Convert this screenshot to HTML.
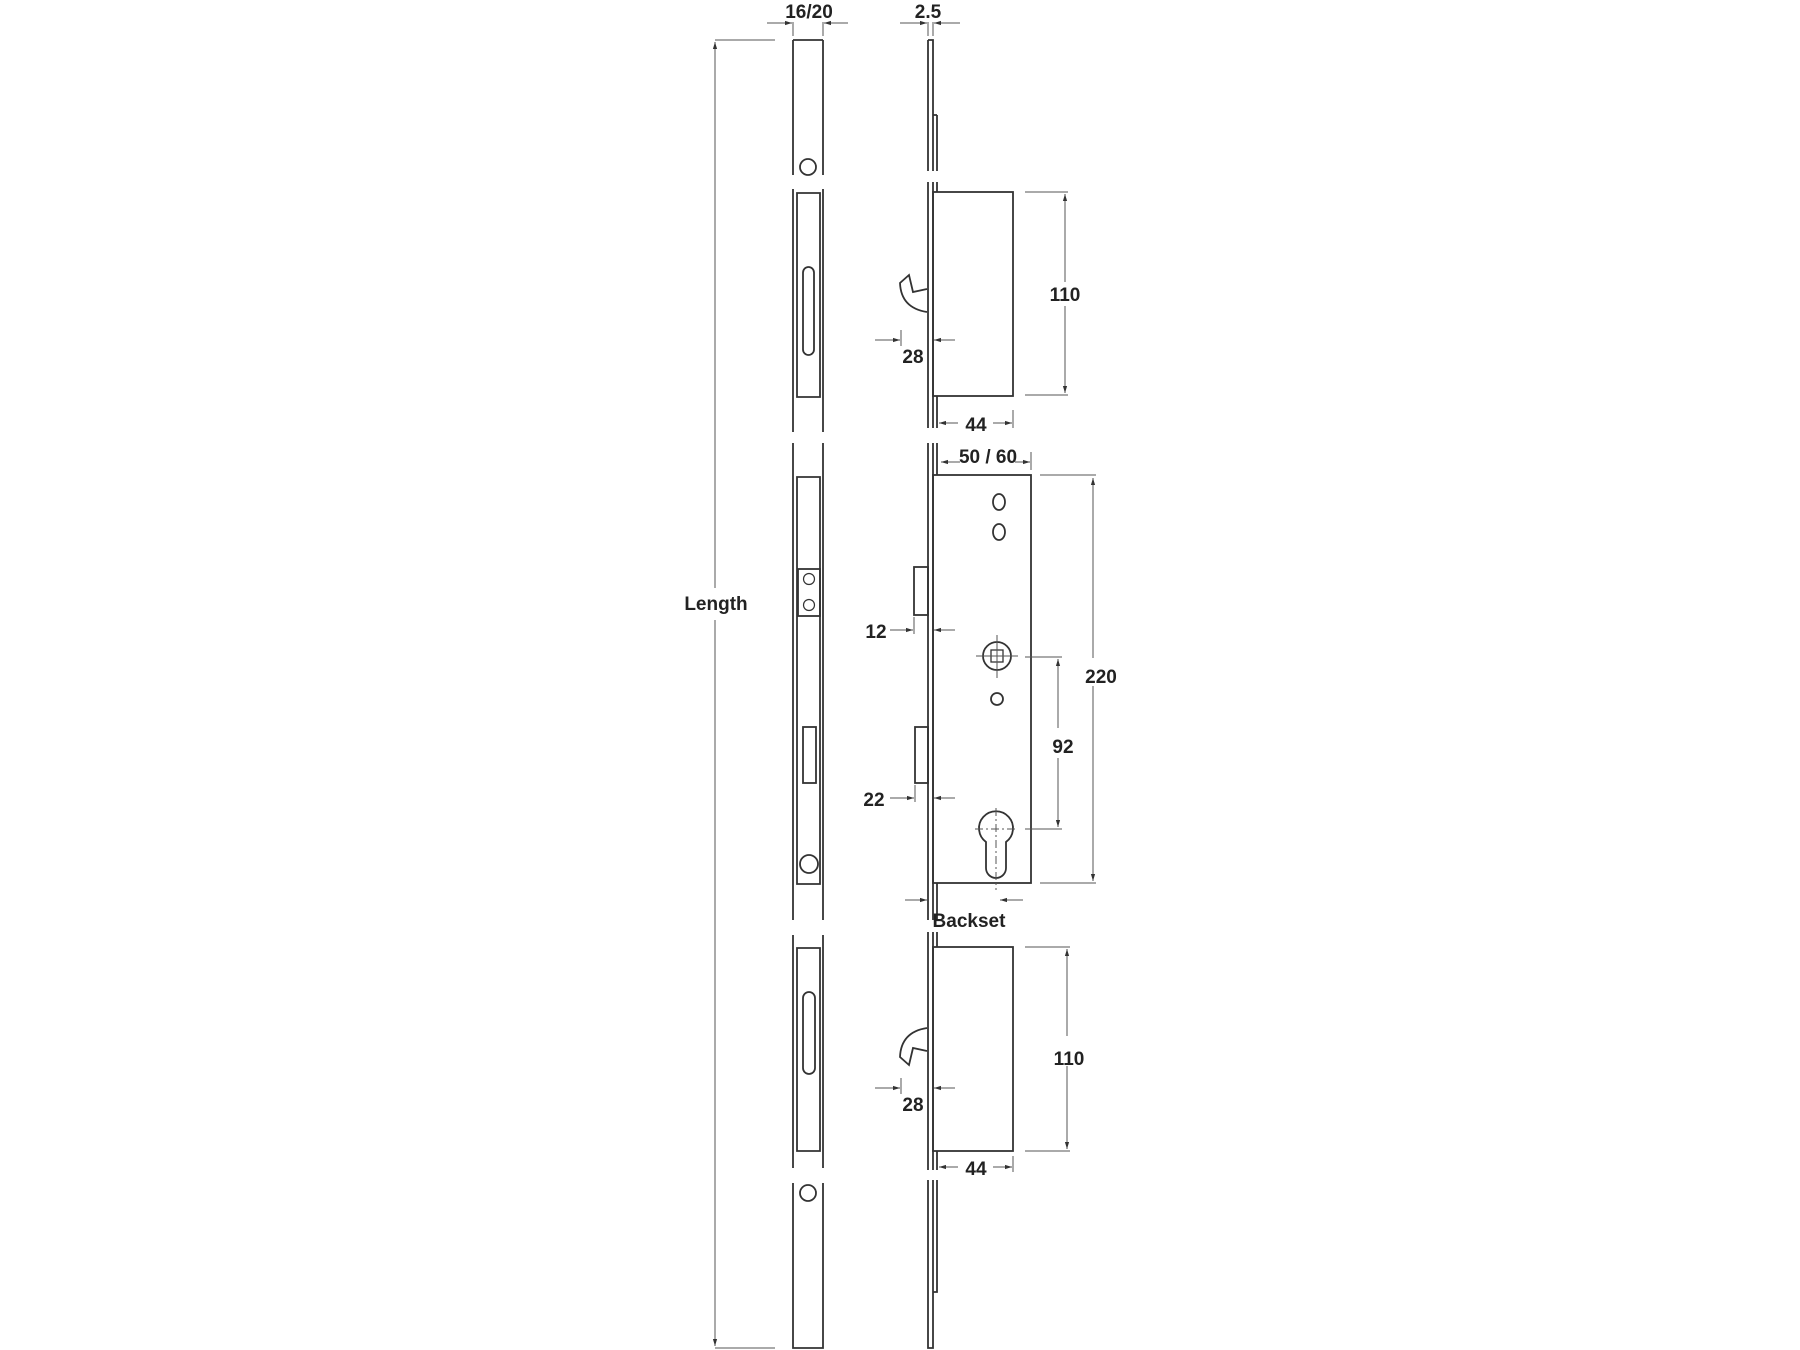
<!DOCTYPE html>
<html><head><meta charset="utf-8"><style>
html,body{margin:0;padding:0;background:#fff;width:1800px;height:1350px;overflow:hidden}
text{font-family:"Liberation Sans",sans-serif;font-weight:bold;fill:#222}
</style></head><body>
<svg width="1800" height="1350" viewBox="0 0 1800 1350" xmlns="http://www.w3.org/2000/svg">
<defs>
<marker id="a" viewBox="0 0 10 10" refX="10" refY="5" markerWidth="7" markerHeight="7" orient="auto-start-reverse"><path d="M0,2 L10,5 L0,8 z" fill="#333"/></marker>
</defs>
<g fill="none" stroke="#333" stroke-width="1.8">
<path d="M793,40 H823 M793,40 V175 M823,40 V175"/>
<circle cx="808" cy="167" r="8"/>
<path d="M793,189 V432 M823,189 V432 M797,193 H820 V397 H797 Z"/>
<rect x="803" y="267" width="11" height="88" rx="5.5"/>
<path d="M793,443 V920 M823,443 V920 M797,477 H820 V884 H797 Z"/>
<rect x="798" y="569" width="22" height="47"/>
<circle cx="809" cy="579" r="5.5" stroke-width="1.2"/><circle cx="809" cy="605" r="5.5" stroke-width="1.2"/>
<rect x="803" y="727" width="13" height="56"/>
<circle cx="809" cy="864" r="9"/>
<path d="M793,935 V1168 M823,935 V1168 M797,948 H820 V1151 H797 Z"/>
<rect x="803" y="992" width="12" height="82" rx="6"/>
<path d="M793,1183 V1348 H823 V1183"/>
<circle cx="808" cy="1193" r="8"/>
<path d="M928,40 H933 V171 M928,40 V171 M937,115 V171 M933,115 H937"/>
<path d="M928,182 V428 M933,182 V428 M937,182 V192 M937,396 V428"/>
<rect x="933" y="192" width="80" height="204"/>
<path d="M928,443 V920 M933,443 V920 M937,443 V475 M937,883 V920"/>
<rect x="933" y="475" width="98" height="408"/>
<path d="M928,932 V1170 M933,932 V1170 M937,932 V947 M937,1151 V1170"/>
<rect x="933" y="947" width="80" height="204"/>
<path d="M928,1180 V1348 H933 V1180 M937,1180 V1292 H933"/>
<path d="M927,289 L913,292 L909,275 L900,283 Q901,308 927,312"/>
<path d="M927,1051 L913,1048 L909,1065 L900,1057 Q901,1032 927,1028"/>
<rect x="914" y="567" width="14" height="48"/>
<rect x="915" y="727" width="13" height="56"/>
<ellipse cx="999" cy="502" rx="6" ry="8"/><ellipse cx="999" cy="532" rx="6" ry="8"/>
<circle cx="997" cy="656" r="14"/><rect x="991" y="650" width="12" height="12" stroke-width="1.3"/>
<circle cx="997" cy="699" r="6"/>
<path d="M986,842 A17,17 0 1 1 1006,842 V868 A10,10 0 0 1 986,868 Z"/>
</g>
<g fill="none" stroke="#555" stroke-width="1">
<path d="M997,635 V678 M976,656 H1018" />
<path d="M996,808 V890 M975,829 H1017" stroke-dasharray="8,3,2,3"/>
<path d="M715,40 H775 M715,1348 H775"/>
<line x1="715" y1="588" x2="715" y2="42" marker-end="url(#a)"/>
<line x1="715" y1="620" x2="715" y2="1346" marker-end="url(#a)"/>
<path d="M793,22 V36 M823,22 V36 M928,22 V36 M933,22 V36"/>
<line x1="767" y1="23" x2="792" y2="23" marker-end="url(#a)"/>
<line x1="848" y1="23" x2="824" y2="23" marker-end="url(#a)"/>
<line x1="900" y1="23" x2="927" y2="23" marker-end="url(#a)"/>
<line x1="960" y1="23" x2="934" y2="23" marker-end="url(#a)"/>
<path d="M1025,192 H1068 M1025,395 H1068"/>
<line x1="1065" y1="282" x2="1065" y2="194" marker-end="url(#a)"/>
<line x1="1065" y1="306" x2="1065" y2="393" marker-end="url(#a)"/>
<path d="M901,330 V346"/>
<line x1="875" y1="340" x2="900" y2="340" marker-end="url(#a)"/>
<line x1="955" y1="340" x2="934" y2="340" marker-end="url(#a)"/>
<path d="M1013,410 V428"/>
<line x1="958" y1="423" x2="939" y2="423" marker-end="url(#a)"/>
<line x1="993" y1="423" x2="1012" y2="423" marker-end="url(#a)"/>
<path d="M1031,452 V470"/>
<line x1="960" y1="462" x2="941" y2="462" marker-end="url(#a)"/>
<line x1="1015" y1="462" x2="1030" y2="462" marker-end="url(#a)"/>
<path d="M1040,475 H1096 M1040,883 H1096"/>
<line x1="1093" y1="658" x2="1093" y2="478" marker-end="url(#a)"/>
<line x1="1093" y1="686" x2="1093" y2="881" marker-end="url(#a)"/>
<path d="M1025,657 H1062 M1025,829 H1062"/>
<line x1="1058" y1="728" x2="1058" y2="659" marker-end="url(#a)"/>
<line x1="1058" y1="758" x2="1058" y2="827" marker-end="url(#a)"/>
<path d="M914,617 V634"/>
<line x1="890" y1="630" x2="913" y2="630" marker-end="url(#a)"/>
<line x1="955" y1="630" x2="934" y2="630" marker-end="url(#a)"/>
<path d="M915,785 V802"/>
<line x1="890" y1="798" x2="914" y2="798" marker-end="url(#a)"/>
<line x1="955" y1="798" x2="934" y2="798" marker-end="url(#a)"/>
<line x1="905" y1="900" x2="927" y2="900" marker-end="url(#a)"/>
<line x1="1023" y1="900" x2="1000" y2="900" marker-end="url(#a)"/>
<path d="M1025,947 H1070 M1025,1151 H1070"/>
<line x1="1067" y1="1036" x2="1067" y2="949" marker-end="url(#a)"/>
<line x1="1067" y1="1066" x2="1067" y2="1149" marker-end="url(#a)"/>
<path d="M901,1078 V1094"/>
<line x1="875" y1="1088" x2="900" y2="1088" marker-end="url(#a)"/>
<line x1="955" y1="1088" x2="934" y2="1088" marker-end="url(#a)"/>
<path d="M1013,1156 V1172"/>
<line x1="958" y1="1167" x2="939" y2="1167" marker-end="url(#a)"/>
<line x1="993" y1="1167" x2="1012" y2="1167" marker-end="url(#a)"/>
</g>
<g font-size="19" text-anchor="middle">
<text x="809" y="18">16/20</text>
<text x="928" y="18">2.5</text>
<text x="716" y="610">Length</text>
<text x="1065" y="301">110</text>
<text x="913" y="363">28</text>
<text x="976" y="431">44</text>
<text x="988" y="463">50 / 60</text>
<text x="1101" y="683">220</text>
<text x="1063" y="753">92</text>
<text x="876" y="638">12</text>
<text x="874" y="806">22</text>
<text x="969" y="927">Backset</text>
<text x="1069" y="1065">110</text>
<text x="913" y="1111">28</text>
<text x="976" y="1175">44</text>
</g>
</svg>
</body></html>
